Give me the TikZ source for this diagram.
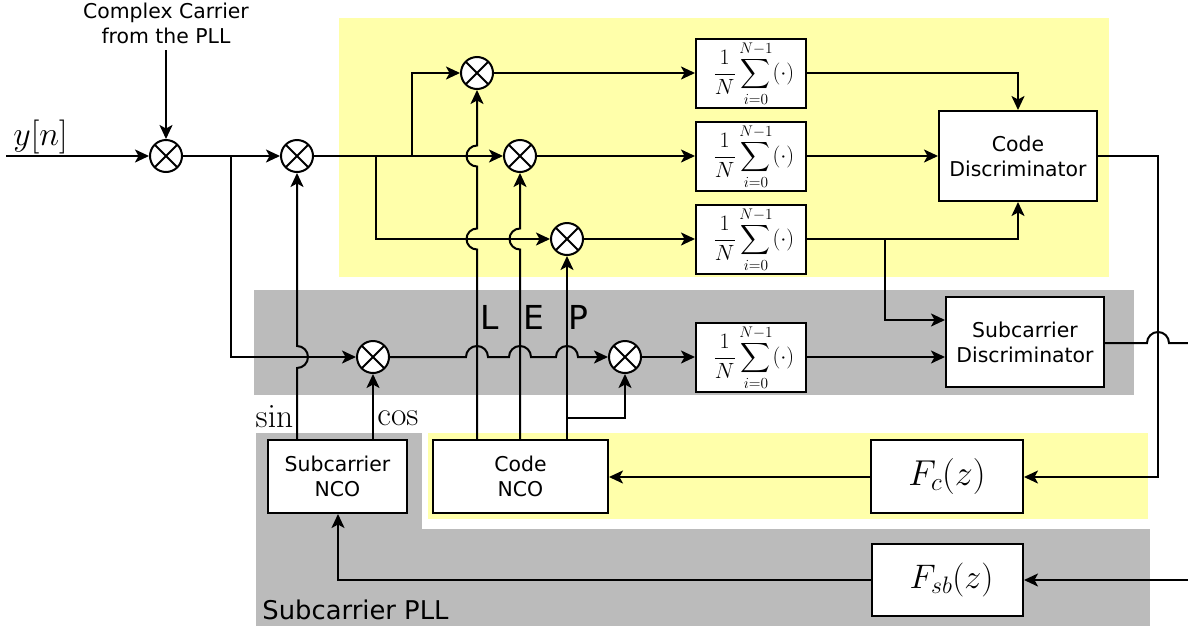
\documentclass[tikz,border=0pt]{standalone}
\usepackage{fix-cm}
\usepackage{amsmath}
\usepackage[no-math]{fontspec}
\setmainfont{DejaVu Sans}
\usepackage{tikz}
\usetikzlibrary{arrows.meta}
\definecolor{paleyellow}{HTML}{FFFFAA}
\definecolor{midgray}{HTML}{BBBBBB}
\tikzstyle{wire} = [line width=2pt, -{Stealth[length=14pt,width=13pt,inset=3.5pt]}]
\tikzstyle{plain} = [line width=2pt]
\tikzstyle{block} = [draw, line width=2pt, fill=white, inner sep=0pt, align=center, font=\fontsize{20.4}{25}\selectfont]
\tikzstyle{sumbox} = [block, minimum width=110pt, minimum height=69pt]
\tikzstyle{mixer} = [draw, circle, line width=2pt, fill=white, minimum size=32pt, inner sep=0pt,
	path picture={\draw[line width=2pt] (path picture bounding box.north west) -- (path picture bounding box.south east)
		(path picture bounding box.north east) -- (path picture bounding box.south west);}]
\tikzstyle{label} = [inner sep=0pt, align=center, font=\fontsize{20.4}{25}\selectfont]
\tikzstyle{eplabel} = [inner sep=0pt, font=\fontsize{33}{36}\selectfont]
\tikzstyle{mathlabel} = [inner sep=0pt, font=\fontsize{33.5}{38}\selectfont]
\newcommand{\avgsum}{\fontsize{22}{26}\selectfont\hspace*{6pt}$\displaystyle\frac{1}{N}\sum_{i=0}^{N-1}(\cdot)$}
\newcommand{\hopleft}{arc[start angle=90, delta angle=180, radius=10.5]}
\newcommand{\hopright}{arc[start angle=90, delta angle=-180, radius=11]}
\newcommand{\hopup}{arc[start angle=180, delta angle=180, radius=11]}

\begin{document}
\begin{tikzpicture}[x=1pt, y=-1pt]
	\useasboundingbox (0,0) rectangle (1188,627);
	% coloured regions
	\fill[paleyellow] (339,18) rectangle (1109,277);
	\fill[midgray] (254,290) rectangle (1134,395);
	\fill[midgray] (256,433) rectangle (422,529);
	\fill[paleyellow] (428,433) rectangle (1148,519);
	\fill[midgray] (256,529) rectangle (1150,626);

	% mixers
	\node[mixer] (mixIn) at (166,156) {};
	\node[mixer] (mixSub) at (297,156) {};
	\node[mixer] (mixL) at (477,73) {};
	\node[mixer] (mixE) at (520,156) {};
	\node[mixer] (mixP) at (567,239) {};
	\node[mixer] (mixCos) at (373,357) {};
	\node[mixer] (mixSc) at (625,357) {};

	% blocks
	\node[sumbox] (sumL) at (751,73.5) {\avgsum};
	\node[sumbox] (sumE) at (751,156.5) {\avgsum};
	\node[sumbox] (sumP) at (751,239.5) {\avgsum};
	\node[sumbox] (sumSc) at (751,357.5) {\avgsum};
	\node[block, minimum width=158pt, minimum height=90pt] (codeDisc) at (1018,156) {Code\\Discriminator};
	\node[block, minimum width=158pt, minimum height=90pt] (subDisc) at (1025,342) {Subcarrier\\Discriminator};
	\node[block, minimum width=139pt, minimum height=73pt] (subNco) at (337.5,476.5) {Subcarrier\\NCO};
	\node[block, minimum width=175pt, minimum height=73pt] (codeNco) at (520.5,476.5) {Code\\NCO};
	\node[block, minimum width=152pt, minimum height=73pt, font=\fontsize{36}{40}\selectfont] (fc) at (947,476.5) {$F_c(z)$};
	\node[block, minimum width=151pt, minimum height=72pt, font=\fontsize{34}{38}\selectfont] (fsb) at (947.5,580) {\hspace*{8pt}$F_{sb}(z)$};

	% texts
	\node[label] (carrier) at (166,23.5) {Complex Carrier\\from the PLL};
	\node[mathlabel, font=\fontsize{34}{38}\selectfont] (yn) at (40.5,137) {$y[n]$};
	\node[eplabel] (lblL) at (489.5,317) {L};
	\node[eplabel] (lblE) at (533.5,317) {E};
	\node[eplabel] (lblP) at (578.5,317) {P};
	\node[mathlabel] (lblSin) at (274.5,417) {$\sin$};
	\node[mathlabel] (lblCos) at (398,418) {$\cos$};
	\node[label, font=\fontsize{25.8}{30}\selectfont] (lblPll) at (355.5,610) {Subcarrier PLL};

	% free ends and branch points
	\coordinate (inEnd) at (6,156);
	\coordinate (scOut) at (1188,343);
	\coordinate (fsbIn) at (1188,580);
	\coordinate (tapCos) at (373,440);
	\coordinate (tapSin) at (297,440);
	\coordinate (tapL) at (477,440);
	\coordinate (tapE) at (520,440);
	\coordinate (tapP) at (567,440);

	% carrier path
	\draw[wire] ([yshift=-6pt]carrier.south -| mixIn) -- (mixIn);
	\draw[wire] (inEnd) -- (mixIn);
	\draw[wire] (mixIn) -- (mixSub);
	\draw[wire] (231,156) -- (231,357) -- (mixCos);
	\draw[wire] (mixSub) -- (mixE);
	\draw[wire] (412,156) -- (412,73) -- (mixL);
	\draw[wire] (376,156) -- (376,239) -- (mixP);

	% NCO taps, hopping over the wires
	\draw[wire] (tapL) -- (477,249.5) \hopleft -- (477,166.5) \hopleft -- (mixL);
	\draw[wire] (tapE) -- (520,249.5) \hopleft -- (mixE);
	\draw[wire] (tapP) -- (mixP);
	\draw[wire] (tapP |- 0,418) -- (625,418) -- (mixSc);
	\draw[wire] (tapSin) -- (297,368) \hopright -- (mixSub);
	\draw[wire] (tapCos) -- (mixCos);
	\draw[wire] (mixCos) -- (466,357) \hopup -- (509,357) \hopup -- (556,357) \hopup -- (mixSc);

	% outputs of the mixers
	\draw[wire] (mixL) -- (sumL.west |- mixL);
	\draw[wire] (mixE) -- (sumE.west |- mixE);
	\draw[wire] (mixP) -- (sumP.west |- mixP);
	\draw[wire] (mixSc) -- (sumSc.west |- mixSc);
	\draw[wire] (sumL.east |- mixL) -- (1018,73) -- (codeDisc);
	\draw[wire] (sumE.east |- codeDisc) -- (codeDisc);
	\draw[wire] (sumP.east |- mixP) -- (1018,239) -- (codeDisc);
	\draw[wire] (885,239) -- (885,320) -- (subDisc.west |- 0,320);
	\draw[wire] (sumSc.east |- mixSc) -- (subDisc.west |- mixSc);

	% loops
	\draw[wire] (codeDisc) -- (1158,156) -- (1158,477) -- (fc.east |- 0,477);
	\draw[plain] (subDisc.east |- scOut) -- (1147,343) \hopup -- (scOut);
	\draw[wire] (fc.west |- 0,477) -- (codeNco.east |- 0,477);
	\draw[wire] (fsbIn) -- (fsb);
	\draw[wire] (fsb) -- (338,580) -- (338,0 |- subNco.south);
\end{tikzpicture}
\end{document}
